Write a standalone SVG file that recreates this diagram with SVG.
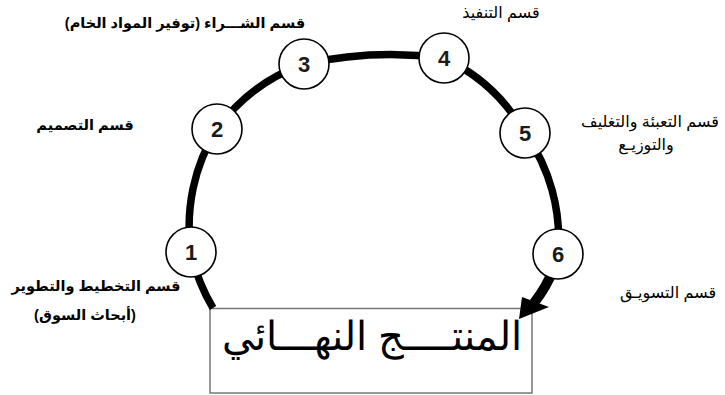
<svg xmlns="http://www.w3.org/2000/svg" width="725" height="395" viewBox="0 0 725 395">
<style>
.ring{fill:none;stroke:#000;stroke-width:7.5;stroke-linecap:butt}
.node circle{fill:#fff;stroke:#000;stroke-width:1.6}
.num{font-family:"Liberation Sans",Arial,sans-serif;font-weight:bold;font-size:22px;text-anchor:middle;fill:#1a1a1a}
.lb{font-family:"Liberation Sans","DejaVu Sans",sans-serif;font-weight:bold;font-size:14.5px;text-anchor:middle;fill:#000}
.lr{font-family:"Liberation Sans","DejaVu Sans",sans-serif;font-size:16px;text-anchor:middle;fill:#000}
</style>
<rect width="725" height="395" fill="#fff"/>
<g id="product">
<rect x="210" y="308.5" width="322" height="84.5" fill="#fff" stroke="#777" stroke-width="1.5"/>
<text x="372" y="350" font-family="'Liberation Sans',Arial,sans-serif" font-size="40" text-anchor="middle" direction="rtl">المنتــــج النهـــائي</text>
</g>
<g id="connectors">
<path class="ring" d="M 213 308 A 183 183 0 0 1 191 252 A 183 183 0 0 1 217 129 A 183 183 0 0 1 304 64 A 400 400 0 0 1 444 58 A 183 183 0 0 1 525 133 A 183 183 0 0 1 558 254"/>
<path d="M 558 254 L 553 270 Q 547 286 534 303" fill="none" stroke="#000" stroke-width="10"/>
<polygon points="519,319 522,297 549,307" fill="#000"/>
</g>
<g id="n1" class="node"><circle cx="191" cy="252" r="25"/><text class="num" x="191" y="260">1</text></g>
<g id="n2" class="node"><circle cx="217" cy="129" r="25"/><text class="num" x="217" y="137">2</text></g>
<g id="n3" class="node"><circle cx="304" cy="64" r="25"/><text class="num" x="304" y="72">3</text></g>
<g id="n4" class="node"><circle cx="444" cy="58" r="25"/><text class="num" x="444" y="66">4</text></g>
<g id="n5" class="node"><circle cx="525" cy="133" r="25"/><text class="num" x="525" y="141">5</text></g>
<g id="n6" class="node"><circle cx="558" cy="254" r="25"/><text class="num" x="558" y="262">6</text></g>
<g id="labels">
<text class="lb" x="185" y="28" direction="rtl">قسم الشـــراء (توفير المواد الخام)</text>
<text class="lb" x="85" y="130" direction="rtl">قسم التصميم</text>
<text class="lr" x="501" y="18" direction="rtl">قسم التنفيذ</text>
<text class="lr" x="650" y="127" direction="rtl">قسم التعبئة والتغليف</text>
<text class="lr" x="646" y="150" direction="rtl">والتوزيـع</text>
<text class="lr" x="668" y="298" direction="rtl">قسم التسويـق</text>
<text class="lb" x="96" y="291" direction="rtl">قسم التخطيط والتطوير</text>
<text class="lb" x="85" y="320" direction="rtl">(أبحاث السوق)</text>
</g>
</svg>
